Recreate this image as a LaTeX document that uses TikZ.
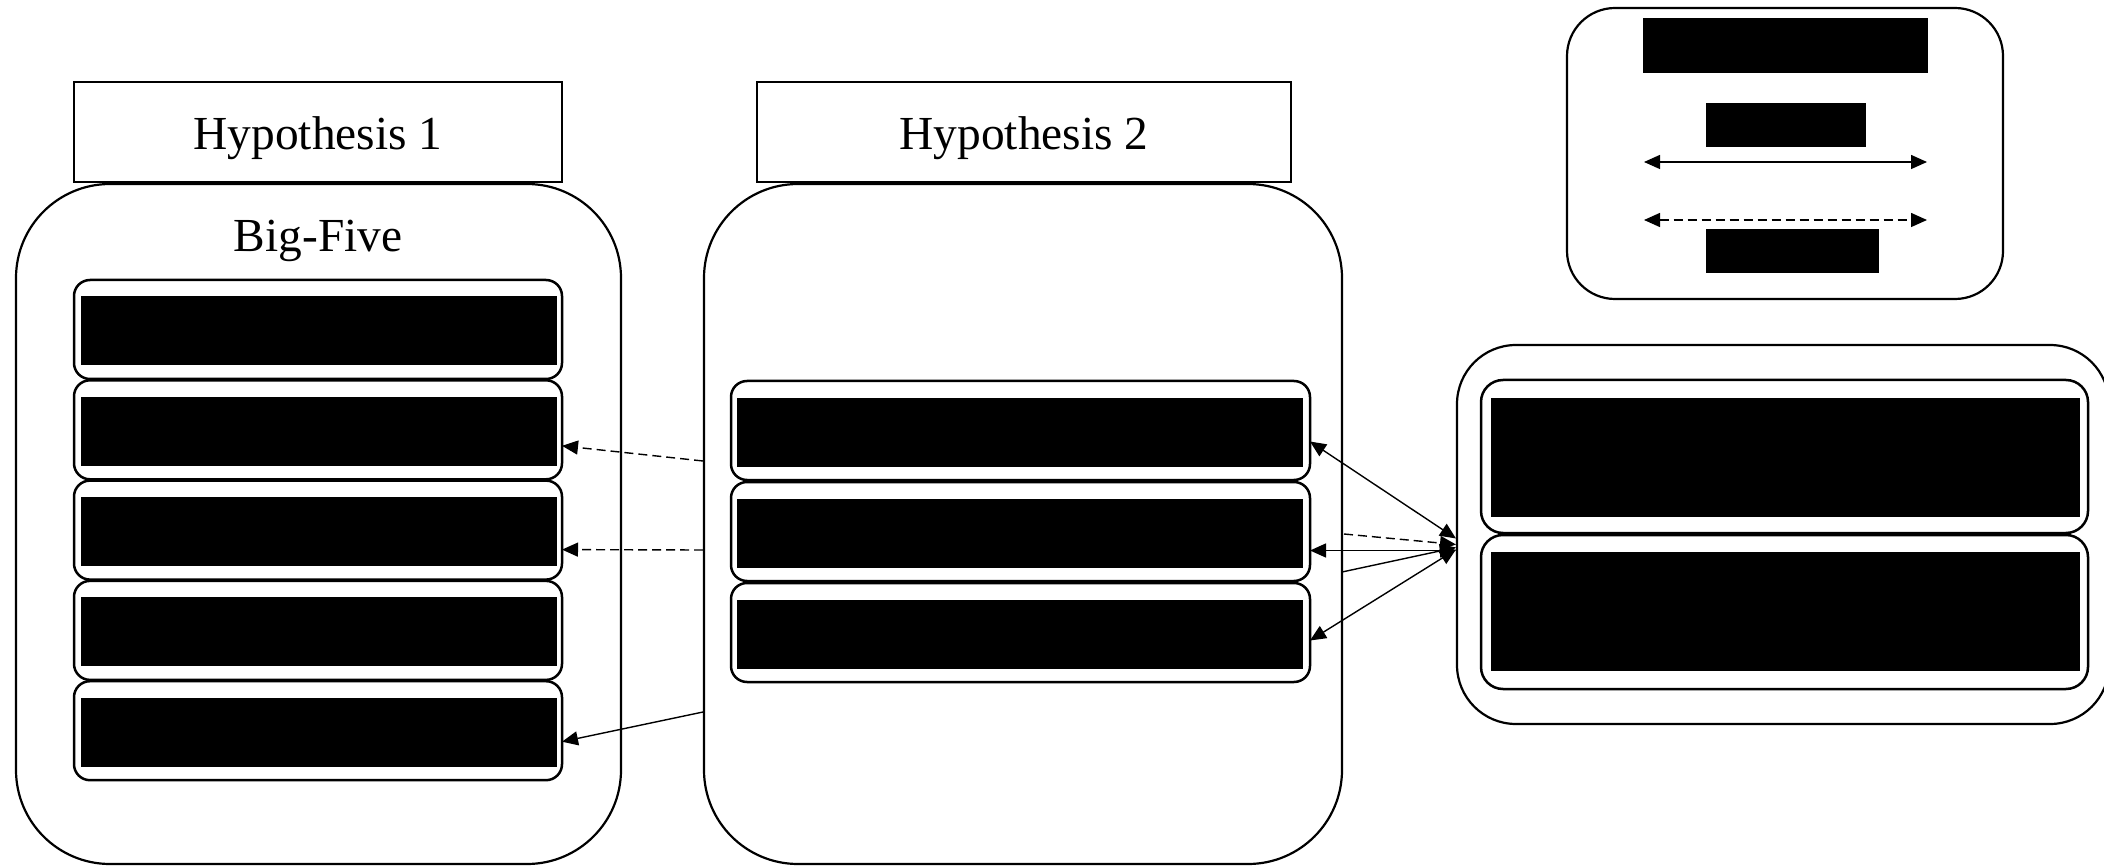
\documentclass[tikz,border=0pt]{standalone}
\usepackage{fontspec}
\setmainfont{Liberation Serif}
\usetikzlibrary{arrows.meta,calc}
\begin{document}
\begin{tikzpicture}[x=1pt,y=-1pt,
  outerbox/.style={draw, line width=2.2pt, rounded corners=94pt, inner sep=0pt, outer sep=0pt},
  hypbox/.style={draw, line width=2pt, inner sep=0pt, outer sep=0pt, text height=36pt, text depth=0pt,
     font=\fontsize{47.4pt}{56pt}\selectfont},
  rowbox/.style={draw, line width=2.5pt, rounded corners=16pt, inner sep=0pt, outer sep=0pt},
  bar/.style={fill=black, draw=none, inner sep=0pt, outer sep=0pt},
  lbl/.style={font=\fontsize{47.4pt}{56pt}\selectfont, inner sep=0pt},
  conn/.style={line width=1.4pt},
  dconn/.style={line width=1.4pt, dash pattern=on 9pt off 5pt},
  >={Triangle[length=16pt,width=14pt]}
]
\useasboundingbox (0,0) rectangle (2104,866);

% ---------- left column ----------
\node[hypbox, minimum width=488pt, minimum height=100pt] (hyp1) at (318,132) {Hypothesis 1};
\node[outerbox, minimum width=605pt, minimum height=680pt] (Lout) at (318.5,524) {};
\node[lbl, anchor=base] (bigfive) at (318,252) {Big-Five};
\foreach \i in {1,...,5}{
  \pgfmathsetmacro{\cy}{280+100.3*(\i-1)+49.5}
  \node[rowbox, minimum width=488pt, minimum height=99pt] (L\i) at (318,\cy) {};
  \node[bar, minimum width=476pt, minimum height=69pt] (Lb\i) at (318.5,\cy+1.5) {};
}

% ---------- middle column ----------
\node[hypbox, minimum width=534pt, minimum height=100pt] (hyp2) at (1024,132) {Hypothesis 2};
\node[outerbox, minimum width=638pt, minimum height=680pt] (Mout) at (1023,524) {};
\foreach \i in {1,...,3}{
  \pgfmathsetmacro{\cy}{381+101*(\i-1)+49.5}
  \node[rowbox, minimum width=579pt, minimum height=99pt] (M\i) at (1020.5,\cy) {};
  \node[bar, minimum width=566pt, minimum height=69pt] (Mb\i) at (1020,\cy+1.5) {};
}

% ---------- right column ----------
\node[outerbox, rounded corners=59pt, minimum width=652pt, minimum height=379pt] (Rout) at (1783,534.5) {};
\node[rowbox, rounded corners=22pt, minimum width=607pt, minimum height=153pt] (R1) at (1784.5,456.5) {};
\node[bar, minimum width=589pt, minimum height=119pt] (Rb1) at (1785.5,457.5) {};
\node[rowbox, rounded corners=22pt, minimum width=607pt, minimum height=154pt] (R2) at (1784.5,612) {};
\node[bar, minimum width=589pt, minimum height=119pt] (Rb2) at (1785.5,611.5) {};

% ---------- legend ----------
\node[outerbox, rounded corners=48pt, minimum width=436pt, minimum height=291pt] (leg) at (1785,153.5) {};
\node[bar, minimum width=285pt, minimum height=55pt] (legb1) at (1785.5,45.5) {};
\node[bar, minimum width=160pt, minimum height=44pt] (legb2) at (1786,125) {};
\node[bar, minimum width=173pt, minimum height=44pt] (legb3) at (1792.5,251) {};
\coordinate (la1) at (1644,162);
\coordinate (la2) at (1927,162);
\coordinate (ld1) at (1644,220);
\coordinate (ld2) at (1927,220);
\draw[conn,<->] (la1) -- (la2);
\draw[dconn,<->] (ld1) -- (ld2);

% ---------- connectors middle -> left ----------
\draw[dconn,->] ($(Mout.west)+(-1,-63)$) -- ($(L2.east)+(0,16)$);
\draw[dconn,->] ($(Mout.west)+(-1,26)$) -- ($(L3.east)+(0,19.5)$);
\draw[conn,->] ($(Mout.west)+(-1,188)$) -- ($(L5.east)+(0,11)$);

% ---------- connectors middle <-> right ----------
\draw[conn,<->] ($(M1.east)+(0,11)$) -- ($(Rout.west)+(-1,4)$);
\draw[dconn,->] ($(Mout.east)+(2,10)$) -- ($(Rout.west)+(-1,10)$);
\draw[conn,<->] ($(M2.east)+(0,19)$) -- ($(Rout.west)+(-1,16)$);
\draw[conn,->] ($(Mout.east)+(0,48)$) -- ($(Rout.west)+(-1,13)$);
\draw[conn,<->] ($(M3.east)+(0,8)$) -- ($(Rout.west)+(-1,15)$);
\end{tikzpicture}
\end{document}
